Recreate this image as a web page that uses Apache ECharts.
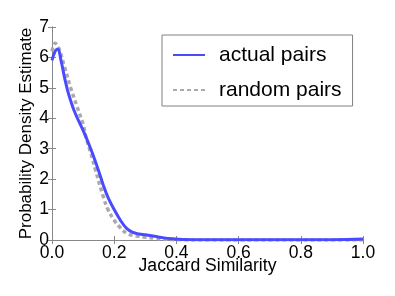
<!DOCTYPE html>
<html><head><meta charset="utf-8">
<script src="https://cdn.jsdelivr.net/npm/echarts@6/dist/echarts.min.js"></script>
<style>html,body{margin:0;padding:0;background:#fff}#c{width:395px;height:296px}</style>
</head><body><div id="c"></div>
<script>
const actualX = [0.0, 0.01, 0.018, 0.03, 0.04, 0.05, 0.06, 0.07, 0.085, 0.1, 0.115, 0.13, 0.15, 0.165, 0.18, 0.2, 0.22, 0.24, 0.26, 0.28, 0.3, 0.33, 0.36, 0.39, 0.42, 0.5, 0.6, 0.7, 0.8, 0.9, 0.95, 1.0];
const actualY = [5.9, 6.2, 6.27, 5.85, 5.35, 4.92, 4.58, 4.28, 3.93, 3.6, 3.24, 2.85, 2.27, 1.8, 1.4, 1.0, 0.65, 0.38, 0.25, 0.2, 0.17, 0.12, 0.07, 0.04, 0.02, 0.01, 0.01, 0.01, 0.01, 0.01, 0.015, 0.03];
const randomX = [0.0, 0.01, 0.02, 0.04, 0.06, 0.08, 0.1, 0.11, 0.125, 0.14, 0.165, 0.18, 0.2, 0.22, 0.24, 0.26, 0.28, 0.3, 0.33, 0.36, 0.4, 0.5, 0.6, 0.7, 0.8, 0.9, 1.0];
const randomY = [6.2, 6.47, 6.35, 5.7, 5.0, 4.4, 3.8, 3.35, 2.85, 2.3, 1.42, 1.0, 0.65, 0.4, 0.22, 0.15, 0.12, 0.09, 0.06, 0.03, 0.01, 0.0, 0.0, 0.0, 0.0, 0.0, 0.0];
const xTicks = [0.0, 0.2, 0.4, 0.6, 0.8, 1.0];
const yTicks = [0, 1, 2, 3, 4, 5, 6, 7];
const seriesNames = ['actual pairs', 'random pairs'];

const FONT = 'Liberation Sans';
const axisCol = '#888888';
const chart = echarts.init(document.getElementById('c'));
const pair = (xs, ys) => xs.map((x, i) => [x, ys[i]]);
const baseX = {
  type: 'value', min: xTicks[0], max: xTicks[xTicks.length - 1], interval: 0.2,
  axisLine: {show: true, lineStyle: {color: axisCol, width: 1}},
  axisTick: {show: true, inside: true, length: 4, lineStyle: {color: axisCol}},
  splitLine: {show: false}
};
const baseY = {
  type: 'value', min: yTicks[0], max: yTicks[yTicks.length - 1], interval: 1,
  axisLine: {show: true, lineStyle: {color: axisCol, width: 1}},
  axisTick: {show: true, inside: true, length: 4, lineStyle: {color: axisCol}},
  splitLine: {show: false}
};
chart.setOption({
  animation: false,
  grid: {left: 52, right: 32, top: 27, bottom: 56},
  legend: {
    orient: 'vertical', left: 162, top: 35,
    padding: [8, 11, 4, 10], itemGap: 11,
    borderColor: '#808080', borderWidth: 1,
    itemWidth: 32, itemHeight: 14,
    itemStyle: {opacity: 0},
    textStyle: {fontFamily: FONT, fontSize: 21, color: '#000', lineHeight: 24, padding: [0, 0, 0, 9]},
    data: seriesNames
  },
  xAxis: [
    Object.assign({}, baseX, {
      position: 'bottom',
      name: 'Jaccard Similarity', nameLocation: 'middle', nameGap: 17, nameMoveOverlap: false,
      nameTextStyle: {fontFamily: FONT, fontSize: 17.6, color: '#000', verticalAlign: 'top'},
      axisLabel: {show: true, margin: 4, fontFamily: FONT, fontSize: 17.5, color: '#000',
        formatter: v => v.toFixed(1)}
    }),
    Object.assign({}, baseX, {position: 'top', axisLabel: {show: false}})
  ],
  yAxis: [
    Object.assign({}, baseY, {
      position: 'left',
      name: 'Probability Density Estimate', nameLocation: 'middle', nameGap: 17, nameMoveOverlap: false,
      nameTextStyle: {fontFamily: FONT, fontSize: 17, color: '#000', verticalAlign: 'bottom'},
      axisLabel: {show: true, margin: 3, fontFamily: FONT, fontSize: 17.5, color: '#000', hideOverlap: false}
    }),
    Object.assign({}, baseY, {position: 'right', axisLabel: {show: false}})
  ],
  series: [
    {
      name: seriesNames[1], type: 'line', smooth: 0.4, showSymbol: false, symbol: 'none',
      xAxisIndex: 0, yAxisIndex: 0, z: 2,
      itemStyle: {color: '#aaaaaa'},
      lineStyle: {color: '#aaaaaa', width: 3.5, type: [4, 3]},
      data: pair(randomX, randomY)
    },
    {
      name: seriesNames[0], type: 'line', smooth: 0.4, showSymbol: false, symbol: 'none',
      xAxisIndex: 0, yAxisIndex: 0, z: 3,
      itemStyle: {color: '#4a4aff'},
      lineStyle: {color: '#4a4aff', width: 3},
      data: pair(actualX, actualY)
    }
  ]
});
</script></body></html>
